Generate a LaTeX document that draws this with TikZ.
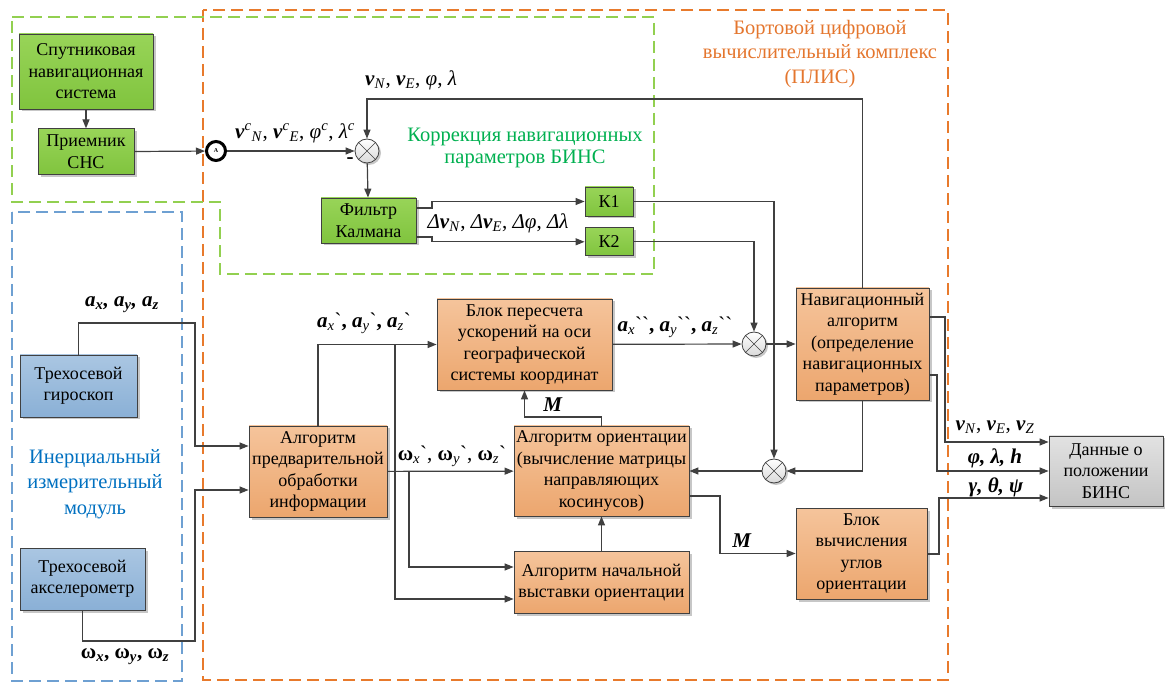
\documentclass[tikz,border=0pt]{standalone}
\usepackage{fontspec}
\setmainfont{Liberation Serif}
\usepackage{tikz}
\usetikzlibrary{positioning,calc,shadows,arrows.meta}
\definecolor{lin}{RGB}{64,64,64}
\definecolor{gtop}{RGB}{152,212,88}
\definecolor{gbot}{RGB}{128,196,62}
\definecolor{otop}{RGB}{245,196,155}
\definecolor{obot}{RGB}{236,166,110}
\definecolor{btop}{RGB}{170,198,226}
\definecolor{bbot}{RGB}{138,176,214}
\definecolor{dtop}{RGB}{226,226,226}
\definecolor{dbot}{RGB}{196,196,196}
\definecolor{dor}{RGB}{232,122,44}
\definecolor{dgr}{RGB}{146,208,80}
\definecolor{dbl}{RGB}{110,160,210}
\definecolor{tor}{RGB}{228,118,46}
\definecolor{tgr}{RGB}{0,176,80}
\definecolor{tbl}{RGB}{0,112,192}
\newcommand{\vb}[1]{\textbf{\textit{#1}}}
\newcommand{\sbs}[1]{\textsubscript{\textit{#1}}}
\newcommand{\sps}[1]{\textsuperscript{\textit{#1}}}
\newcommand{\gr}{\textasciigrave}

\begin{document}
\begin{tikzpicture}[x=1pt, y=-1pt,
	blk/.style={draw=lin, line width=0.8pt, align=center, inner sep=0pt, font=\fontsize{18}{21.5}\selectfont,
		drop shadow={shadow xshift=2.5pt, shadow yshift=-2.5pt, fill=black!22, opacity=1}},
	gbox/.style={blk, top color=gtop, bottom color=gbot},
	obox/.style={blk, top color=otop, bottom color=obot},
	bbox/.style={blk, top color=btop, bottom color=bbot},
	dbox/.style={blk, top color=dtop, bottom color=dbot},
	wh/.style 2 args={minimum width=#1pt, minimum height=#2pt},
	sumc/.style={circle, draw=lin, line width=0.8pt, minimum size=24pt, inner sep=0pt, top color=white, bottom color=black!15,
		drop shadow={shadow xshift=2pt, shadow yshift=-2pt, fill=black!22, opacity=1},
		path picture={\draw[lin, line width=0.6pt]
			($(path picture bounding box.center)+(45:12pt)$) -- ($(path picture bounding box.center)+(225:12pt)$)
			($(path picture bounding box.center)+(135:12pt)$) -- ($(path picture bounding box.center)+(315:12pt)$);}},
	acirc/.style={circle, draw=black, line width=3pt, minimum size=19pt, inner sep=0pt, fill=white, font=\fontsize{6}{6}\selectfont\bfseries},
	conn/.style={draw=lin, line width=1.2pt, -{Triangle[length=9pt, width=7pt]}},
	reg/.style={dash pattern=on 12pt off 6pt, line width=1.4pt},
	ttl/.style={align=center, inner sep=0pt, font=\fontsize{20.5}{24.5}\selectfont},
	lbl/.style={inner sep=0pt, font=\fontsize{21}{24}\selectfont}]
	\useasboundingbox (0,0) rectangle (1165,684);
	\draw[reg, draw=dor] (203,10) rectangle (948,680);
	\draw[reg, draw=dgr] (12,17) -- (654,17) -- (654,274) -- (220,274) -- (220,202) -- (12,202) -- cycle;
	\draw[reg, draw=dbl] (12,212) rectangle (182,681);
	
	\node[ttl, text=tor] (tbort) at (820,54) {Бортовой цифровой\\вычислительный комплекс\\(ПЛИС)};
	\node[ttl, text=tgr, font=\fontsize{20.5}{22.5}\selectfont] (tkor) at (525,148) {Коррекция навигационных\\параметров БИНС};
	\node[ttl, text=tbl, font=\fontsize{20.5}{25.5}\selectfont] (tinr) at (95,484) {Инерциальный\\измерительный\\модуль};
	
	\node[gbox, wh={134}{75}] (sat) at (86,71.5) {Спутниковая\\навигационная\\система};
	\node[gbox, wh={96}{46}, below=19pt of sat] (rcv) {Приемник\\СНС};
	\node[acirc] (A) at (216,151) {A};
	\node[sumc] (sum1) at (367,151) {};
	\node[gbox, wh={95}{45}] (kf) at (368.5,220.5) {Фильтр\\Калмана};
	\node[gbox, wh={48}{29}] (k1) at (609,201.5) {К1};
	\node[gbox, wh={48}{28}, below=11pt of k1] (k2) {К2};
	\node[bbox, wh={117}{62}] (gyro) at (78.5,386) {Трехосевой\\гироскоп};
	\node[bbox, wh={125}{62}] (acc) at (82.5,579) {Трехосевой\\акселерометр};
	\node[obox, wh={138}{91}] (pre) at (318,471.5) {Алгоритм\\предварительной\\обработки\\информации};
	\node[obox, wh={175}{91}] (geo) at (524.5,344.5) {Блок пересчета\\ускорений на оси\\географической\\системы координат};
	\node[obox, wh={175}{90}] (ori) at (601.5,471) {Алгоритм ориентации\\(вычисление матрицы\\направляющих\\косинусов)};
	\node[obox, wh={175}{62}, below=35pt of ori] (ini) {Алгоритм начальной\\выставки ориентации};
	\node[sumc] (sum2) at (754,344) {};
	\node[sumc] (sum3) at (774,471) {};
	\node[obox, wh={133}{112}] (nav) at (862.5,344) {Навигационный\\алгоритм\\(определение\\навигационных\\параметров)};
	\node[obox, wh={131}{91}] (ang) at (861.5,553.5) {Блок\\вычисления\\углов\\ориентации};
	\node[dbox, wh={114}{70}] (out) at (1106,471) {Данные о\\положении\\БИНС};
	
	\coordinate (j1) at (395,344.5);
	\coordinate (j2) at (409,471.5);
	
	\draw[conn] (sat) -- (rcv);
	\draw[conn] (rcv) -- (A);
	\draw[conn] (A) -- (sum1);
	\draw[conn] (nav.north) |- (sum1 |- 0,99) -- (sum1);
	\draw[conn] (sum1) -- (kf);
	\draw[conn] (kf.east |- 0,208) -- (432,208) |- (k1);
	\draw[conn] (kf.east |- 0,237) -- (432,237) |- (k2);
	\draw[conn] (k1) -| (sum3);
	\draw[conn] (k2) -| (sum2);
	\draw[conn] (geo) -- (sum2);
	\draw[conn] (sum2) -- (nav);
	\draw[conn] (nav) |- (sum3);
	\draw[conn] (sum3) -- (ori);
	\draw[conn] (gyro) |- (195,323) |- (pre.west |- 0,446);
	\draw[conn] (acc) |- (195,641) |- (pre.west |- 0,490);
	\draw[conn] (pre) |- (geo);
	\draw[conn] (j1) |- (ini.west |- 0,599);
	\draw[conn] (pre) -- (ori);
	\draw[conn] (j2) |- (ini.west |- 0,567);
	\draw[conn] (ini) -- (ori);
	\draw[conn] (ori) |- (geo |- 0,417) -- (geo);
	\draw[conn] (ori.east |- 0,496) -| (720,553.5) -- (ang);
	\draw[conn] (nav.east |- 0,317) -| (945,442) -- (out.west |- 0,442);
	\draw[conn] (nav.east |- 0,375) -| (937,471) -- (out);
	\draw[conn] (ang.east |- 0,554) -| (939,498) -- (out.west |- 0,498);
	
	\node[lbl] (lvc) at (295,133) {\vb{v}\sps{c}\sbs{N}, \vb{v}\sps{c}\sbs{E}, \textit{φ}\sps{c}, \textit{λ}\sps{c}};
	\node[lbl] (mns) at (350,161) {\textbf{-}};
	\node[lbl] (lnav) at (411,80) {\vb{v}\sbs{N}, \vb{v}\sbs{E}, \textit{φ}, \textit{λ}};
	\node[lbl] (ldel) at (498,223) {\textit{Δ}\vb{v}\sbs{N}, \textit{Δ}\vb{v}\sbs{E}, \textit{Δφ}, \textit{Δλ}};
	\node[lbl] (lax) at (122,305) {\vb{a\sbs{x}, a\sbs{y}, a\sbs{z}}};
	\node[lbl] (lwx) at (125,657) {\textbf{ω\sbs{x}, ω\sbs{y}, ω\sbs{z}}};
	\node[lbl] (lax1) at (364,323) {\vb{a}\sbs{x}\gr\textbf{,} \vb{a}\sbs{y}\gr\textbf{,} \vb{a}\sbs{z}\gr};
	\node[lbl] (lwx1) at (452,456) {\textbf{ω}\sbs{x}\gr, \textbf{ω}\sbs{y}\gr, \textbf{ω}\sbs{z}\gr};
	\node[lbl] (lax2) at (675,327) {\vb{a}\sbs{x}\gr\gr\textbf{,} \vb{a}\sbs{y}\gr\gr\textbf{,} \vb{a}\sbs{z}\gr\gr};
	\node[lbl] (lm1) at (553,405) {\vb{M}};
	\node[lbl] (lm2) at (742,541) {\vb{M}};
	\node[lbl] (lv) at (995,427) {\vb{v}\sbs{N}, \vb{v}\sbs{E}, \vb{v}\sbs{Z}};
	\node[lbl] (lpl) at (995,458) {\vb{φ, λ, h}};
	\node[lbl] (lgt) at (996,487) {\vb{γ, θ, ψ}};
\end{tikzpicture}
\end{document}
